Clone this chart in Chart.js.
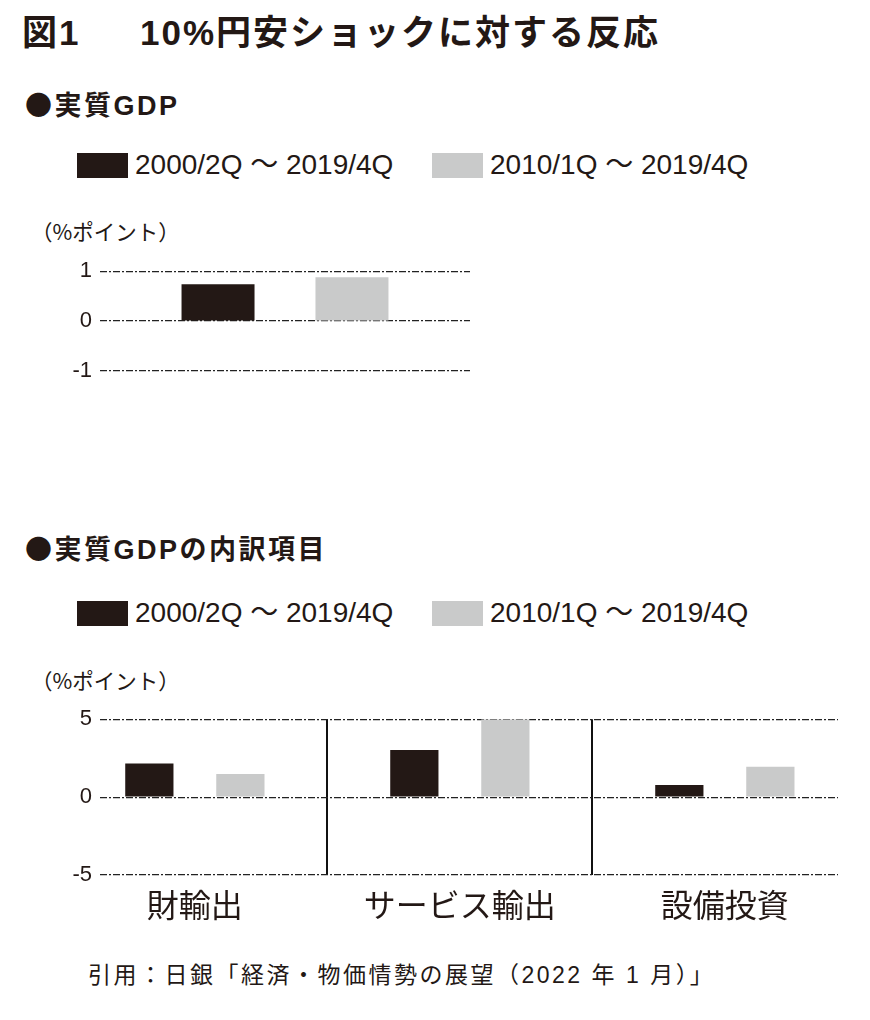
<!DOCTYPE html>
<html lang="ja">
<head>
<meta charset="utf-8">
<script src="https://cdn.jsdelivr.net/npm/chart.js@4.4.1/dist/chart.umd.min.js"></script>
<style>
  html, body { margin: 0; padding: 0; background: #ffffff; }
  body { width: 870px; height: 1020px; position: relative; overflow: hidden; color: #231815;
         font-family: "Liberation Sans", "Noto Sans CJK JP", sans-serif; font-kerning: none; }
  .abs { position: absolute; white-space: nowrap; }
  .title { left: 22px; top: 12px; height: 42px; line-height: 42px; font-size: 35px; font-weight: bold; letter-spacing: 2px; width: 848px; }
  .title .t2 { position: absolute; left: 118px; top: 0; }
  .head { left: 25px; height: 34px; line-height: 34px; font-size: 27px; font-weight: bold; letter-spacing: 2.5px; }
  .cjk { font-family: "Noto Sans CJK JP", sans-serif; }
  .unit { left: 31px; height: 26px; line-height: 26px; font-size: 21.5px; font-family: "Noto Sans CJK JP", sans-serif; }
  .legend { left: 0; height: 30px; width: 870px; }
  .litem { position: absolute; top: 0; height: 30px; display: flex; align-items: center; }
  .lbox { width: 51px; height: 25px; margin-right: 7px; }
  .ltext { font-size: 28px; line-height: 30px; }
  .foot { left: 88px; top: 960px; height: 30px; line-height: 30px; font-size: 23px; letter-spacing: 2.5px; }
  canvas { position: absolute; left: 0; }
</style>
</head>
<body>
<div class="abs title"><span>図1　　</span><span class="t2">10%円安ショックに対する反応</span></div>
<div class="abs head" style="top:87px;"><span class="cjk">●</span>実質GDP</div>
<div class="abs legend" id="legend1" style="top:150px;"></div>
<div class="abs unit" style="top:218px;">（%ポイント）</div>
<canvas id="c1" width="480" height="142" style="top:250px;"></canvas>

<div class="abs head" style="top:531px;"><span class="cjk">●</span>実質GDPの内訳項目</div>
<div class="abs legend" id="legend2" style="top:598px;"></div>
<div class="abs unit" style="top:667px;">（%ポイント）</div>
<canvas id="c2" width="870" height="252" style="top:698px;"></canvas>

<div class="abs foot">引用：日銀「経済・物価情勢の展望（2022 年 1 月）」</div>

<script>
// ---- data ----
const seriesLabels = ['2000/2Q ～ 2019/4Q', '2010/1Q ～ 2019/4Q'];
const seriesColors = ['#231815', '#c9caca'];

const gdpCategories = ['実質GDP'];
const gdpLong = [0.74];
const gdpShort = [0.88];
const gdpTicks = [-1, 0, 1];

const compCategories = ['財輸出', 'サービス輸出', '設備投資'];
const compLong = [2.16, 3.03, 0.77];
const compShort = [1.48, 5.0, 1.94];
const compTicks = [-5, 0, 5];

// ---- shared styling ----
const gridDash = [7, 2, 2, 2];
const tickFont = { family: '"Liberation Sans", "Noto Sans CJK JP", sans-serif', size: 22 };
const textColor = '#231815';

function yAxis(ticks) {
  return {
    min: ticks[0], max: ticks[ticks.length - 1],
    afterBuildTicks: s => { s.ticks = ticks.map(v => ({ value: v })); },
    afterFit: s => { s.width = 100; },
    ticks: { padding: 8, color: textColor, font: tickFont },
    grid: { color: '#222222', lineWidth: 1.2, drawTicks: false },
    border: { display: false, dash: gridDash }
  };
}

function buildLegend(chart, elId, lefts) {
  const el = document.getElementById(elId);
  const items = chart.options.plugins.legend.labels.generateLabels(chart);
  items.forEach((it, i) => {
    const d = document.createElement('div');
    d.className = 'litem';
    d.style.left = lefts[i] + 'px';
    const b = document.createElement('div');
    b.className = 'lbox';
    b.style.background = it.fillStyle;
    const t = document.createElement('span');
    t.className = 'ltext';
    t.textContent = it.text;
    d.appendChild(b); d.appendChild(t);
    el.appendChild(d);
  });
}

// ---- chart 1: 実質GDP ----
const chart1 = new Chart(document.getElementById('c1'), {
  type: 'bar',
  data: {
    labels: gdpCategories,
    datasets: [
      { label: seriesLabels[0], data: gdpLong, backgroundColor: seriesColors[0] },
      { label: seriesLabels[1], data: gdpShort, backgroundColor: seriesColors[1] }
    ]
  },
  options: {
    responsive: false, animation: false,
    categoryPercentage: 0.724, barPercentage: 0.545,
    layout: { padding: { top: 0, right: 10, bottom: 0, left: 0 } },
    plugins: { legend: { display: false }, tooltip: { enabled: false } },
    scales: {
      x: { display: false },
      y: yAxis(gdpTicks)
    }
  }
});
buildLegend(chart1, 'legend1', [77, 432]);

// ---- chart 2: 内訳項目 ----
const chart2 = new Chart(document.getElementById('c2'), {
  type: 'bar',
  data: {
    datasets: [
      { label: seriesLabels[0], data: compLong.map((v, i) => ({ x: i, y: v })), backgroundColor: seriesColors[0] },
      { label: seriesLabels[1], data: compShort.map((v, i) => ({ x: i, y: v })), backgroundColor: seriesColors[1] }
    ]
  },
  options: {
    responsive: false, animation: false,
    categoryPercentage: 0.687, barPercentage: 0.53,
    layout: { padding: { top: 0, right: 32, bottom: 15, left: 0 } },
    plugins: { legend: { display: false }, tooltip: { enabled: false } },
    scales: {
      x: {
        type: 'linear', offset: false, bounds: 'data',
        min: -0.358, max: 2.427,
        afterBuildTicks: s => { s.ticks = compCategories.map((c, i) => ({ value: i })); },
        afterFit: s => { s.height = 60; },
        ticks: {
          autoSkip: false, maxRotation: 0, padding: 11, color: textColor,
          font: { family: '"Noto Sans CJK JP", sans-serif', size: 32 },
          callback: v => compCategories[v]
        },
        grid: { offset: true, color: '#111111', lineWidth: 2, drawTicks: false },
        border: { display: false }
      },
      y: yAxis(compTicks)
    }
  }
});
buildLegend(chart2, 'legend2', [77, 432]);
</script>
</body>
</html>
